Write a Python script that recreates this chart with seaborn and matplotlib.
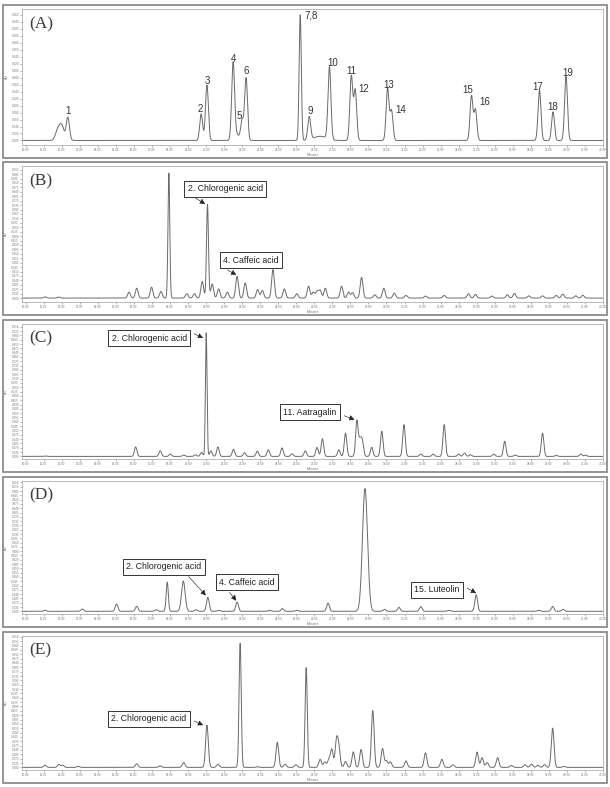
import numpy as np
import pandas as pd
import seaborn as sns
import matplotlib.pyplot as plt
from matplotlib.patches import Rectangle

# peak tables: retention time (min), height
a_rt = [11.79, 12.01, 12.34, 19.73, 20.05, 21.50, 21.68, 22.00, 22.22, 25.22, 25.72, 26.32,
        26.84, 28.05, 28.27, 30.06, 30.28, 34.71, 34.93, 38.48, 39.23, 39.95]
a_h = [0.031, 0.039, 0.066, 0.076, 0.159, 0.218, 0.017, 0.056, 0.179, 0.360, 0.066, 0.012,
       0.208, 0.184, 0.144, 0.149, 0.085, 0.127, 0.088, 0.144, 0.082, 0.184]
a_lab = ["", "", "1", "2", "3", "4", "", "5", "6", "7,8", "9", "",
         "10", "11", "12", "13", "14", "15", "16", "17", "18", "19"]

b_rt = [11.08, 11.84, 15.73, 16.16, 16.98, 17.50, 17.94, 18.93, 19.36, 19.79, 20.08, 20.34,
        20.70, 21.18, 21.72, 22.17, 22.86, 23.12, 23.71, 24.34, 25.03, 25.68, 25.94, 26.15,
        26.32, 26.61, 27.51, 27.90, 28.12, 28.62, 29.35, 29.85, 30.43, 31.08, 32.16, 33.20,
        34.54, 34.93, 35.84, 36.70, 37.09, 37.89, 38.65, 39.41, 39.77, 40.49, 40.88]
b_h = [0.010, 0.008, 0.047, 0.078, 0.086, 0.052, 0.987, 0.034, 0.034, 0.131, 0.739, 0.112,
       0.073, 0.047, 0.172, 0.120, 0.068, 0.060, 0.225, 0.073, 0.034, 0.094, 0.047, 0.052,
       0.060, 0.078, 0.094, 0.047, 0.042, 0.164, 0.026, 0.078, 0.039, 0.021, 0.016, 0.021,
       0.034, 0.029, 0.016, 0.026, 0.037, 0.018, 0.018, 0.021, 0.031, 0.018, 0.023]

c_rt = [11.08, 16.10, 17.46, 18.02, 18.76, 19.41, 19.75, 20.01, 20.27, 20.66, 21.52, 22.13,
        22.84, 23.45, 24.21, 24.77, 25.50, 26.15, 26.45, 27.36, 27.73, 28.36, 28.53, 28.66,
        29.18, 29.74, 30.97, 31.90, 32.59, 33.20, 34.00, 34.32, 34.65, 35.95, 36.55, 37.14,
        38.65, 39.41, 40.77, 41.03]
c_h = [0.003, 0.077, 0.045, 0.019, 0.011, 0.013, 0.032, 1.000, 0.045, 0.077, 0.058, 0.029,
       0.042, 0.053, 0.069, 0.021, 0.045, 0.072, 0.143, 0.053, 0.188, 0.289, 0.120, 0.120,
       0.074, 0.204, 0.257, 0.019, 0.019, 0.257, 0.019, 0.027, 0.013, 0.019, 0.122, 0.011,
       0.188, 0.008, 0.019, 0.011]

d_rt = [11.08, 13.14, 15.04, 16.16, 17.24, 17.85, 18.74, 19.45, 20.10, 20.70, 21.72, 23.51,
        24.23, 25.03, 26.76, 28.81, 29.89, 30.69, 31.90, 33.46, 34.97, 38.43, 39.21, 39.79]
d_h = [0.008, 0.019, 0.059, 0.040, 0.013, 0.237, 0.247, 0.013, 0.113, 0.008, 0.075, 0.008,
       0.022, 0.008, 0.067, 1.000, 0.016, 0.032, 0.038, 0.008, 0.134, 0.008, 0.040, 0.016]

e_rt = [11.08, 11.84, 12.05, 12.92, 16.16, 17.46, 18.76, 20.05, 20.66, 21.89, 22.86, 23.95,
        24.38, 24.98, 25.55, 26.32, 26.58, 26.80, 26.97, 27.23, 27.36, 27.73, 28.16, 28.59,
        29.24, 29.78, 30.00, 30.22, 31.08, 32.16, 33.07, 33.68, 35.02, 35.30, 35.58, 36.16,
        36.92, 37.68, 38.04, 38.39, 38.76, 39.21, 39.84]
e_h = [0.018, 0.023, 0.018, 0.008, 0.029, 0.013, 0.039, 0.339, 0.026, 1.000, 0.005, 0.201,
       0.026, 0.021, 0.802, 0.065, 0.044, 0.057, 0.144, 0.210, 0.150, 0.047, 0.125, 0.144,
       0.457, 0.151, 0.052, 0.044, 0.052, 0.117, 0.065, 0.021, 0.123, 0.078, 0.039, 0.078,
       0.016, 0.021, 0.026, 0.018, 0.023, 0.316, 0.008]

# peaks that are wider/narrower than the usual one (rt -> sigma, min)
a_wide = {11.79: 0.13, 12.01: 0.12, 12.34: 0.09, 21.68: 0.15, 25.22: 0.06, 26.32: 0.35}
b_wide = {17.94: 0.05, 20.08: 0.055}
c_wide = {20.01: 0.045}
d_wide = {18.74: 0.1, 28.81: 0.14, 17.85: 0.06}
e_wide = {21.89: 0.06, 25.55: 0.06}

labels = ["(A)", "(B)", "(C)", "(D)", "(E)"]

# text boxes: text, box centre (rt, h), arrow tail, arrow head
b_notes = [("2. Chlorogenic acid", (21.07, 0.864), (19.41, 0.791), (19.95, 0.744)),
           ("4. Caffeic acid", (22.50, 0.298), (21.20, 0.222), (21.68, 0.183))]
c_notes = [("2. Chlorogenic acid", (16.85, 0.958), (19.34, 0.992), (19.84, 0.960)),
           ("11. Aatragalin", (25.76, 0.358), (27.66, 0.329), (28.23, 0.297))]
d_notes = [("2. Chlorogenic acid", (17.65, 0.363), (19.04, 0.282), (19.99, 0.129)),
           ("4. Caffeic acid", (22.28, 0.237), (21.31, 0.153), (21.68, 0.086)),
           ("15. Luteolin", (32.79, 0.175), (34.48, 0.188), (34.97, 0.148))]
e_notes = [("2. Chlorogenic acid", (16.83, 0.392), (19.34, 0.373), (19.84, 0.339))]


def trace(rt, h, wide, sigma=0.075, base=0.0):
    t = np.linspace(9.8, 42.0, 4000)
    y = np.full_like(t, base)
    for r, hh in zip(rt, h):
        s = wide.get(r, sigma)
        y += hh * np.exp(-0.5 * ((t - r) / s) ** 2)
    return pd.DataFrame({"Minutes": t, "AU": y})


sns.set_theme(style="white")
plt.rcParams['font.family'] = ['Liberation Sans', 'DejaVu Sans']

W, H = 610, 787
fig = plt.figure(figsize=(W / 100, H / 100), dpi=100)

# frame top / bottom of each panel, pixels
frames = [(5, 158), (162, 315), (320, 472), (477, 627), (632, 783)]
data = [trace(a_rt, a_h, a_wide, 0.08), trace(b_rt, b_h, b_wide),
        trace(c_rt, c_h, c_wide, 0.07), trace(d_rt, d_h, d_wide),
        trace(e_rt, e_h, e_wide)]
ylims = [(-0.013, 0.377), (-0.031, 1.044), (-0.021, 1.072), (-0.022, 1.062), (-0.021, 1.057)]
ysteps = [0.02, 0.035, 0.035, 0.035, 0.035]
notes = [[], b_notes, c_notes, d_notes, e_notes]

# label offsets for the peak numbers in (A), points
lab_off = {"1": (0, 1), "2": (-1, 0), "3": (0, -1), "5": (-2, 0), "6": (0, 1.5),
           "7,8": (3, -4), "9": (1, 1), "10": (2, 0), "12": (2, -3), "13": (1, -1),
           "14": (3, -3), "15": (-3, 1), "16": (3, 2), "17": (-1, -1), "19": (1, -1)}
lab_left = {"7,8", "12", "14", "16"}

for i, (top, bot) in enumerate(frames):
    fig.patches.append(Rectangle((3 / W, 1 - bot / H), 604 / W, (bot - top) / H,
                                 transform=fig.transFigure, fill=False,
                                 ec="#8c8c8c", lw=1.3))
    ax = fig.add_axes([22 / W, 1 - (bot - 13) / H, 581 / W, (bot - 13 - top - 4) / H])
    sns.lineplot(data=data[i], x="Minutes", y="AU", ax=ax, color="#6a6a6a", lw=0.7)
    ax.set_xlim(9.8, 42.0)
    ax.set_ylim(*ylims[i])
    ax.set_xticks(np.arange(10, 43, 1))
    ax.set_xticklabels([f"{v:.2f}" for v in np.arange(10, 43, 1)])
    yt = np.arange(0, ylims[i][1], ysteps[i])
    ax.set_yticks(yt)
    ax.set_yticklabels([f"{v:.3f}" for v in yt])
    ax.tick_params(labelsize=2.2, colors="#777777", length=1.2, width=0.4, pad=1)
    ax.tick_params(axis="both", which="both", bottom=True, left=True)
    ax.set_xlabel("Minutes", fontsize=2.5, color="#777777", labelpad=0.5)
    ax.set_ylabel("AU", fontsize=2.5, color="#777777", labelpad=2)
    for sp in ax.spines.values():
        sp.set_color("#b0b0b0")
        sp.set_linewidth(0.6)
    ax.text(0.012, 0.89, labels[i], transform=ax.transAxes, fontsize=12.5,
            family="Liberation Serif", va="center", ha="left", color="#3a3a3a")

    if i == 0:
        for r, hh, lab in zip(a_rt, a_h, a_lab):
            if not lab:
                continue
            dx, dy = lab_off.get(lab, (0, 0))
            ax.annotate(lab, (r, hh), xytext=(dx, dy), textcoords="offset points",
                        ha="left" if lab in lab_left else "center", va="bottom",
                        fontsize=7, color="#333333")

    for txt, (bx, by), tail, head in notes[i]:
        ax.text(bx, by, txt, ha="center", va="center", fontsize=6.3, color="#222222",
                bbox=dict(boxstyle="square,pad=0.4", fc="white", ec="#333333", lw=0.7))
        ax.annotate("", xy=head, xytext=tail,
                    arrowprops=dict(arrowstyle="-|>,head_length=0.5,head_width=0.25",
                                    mutation_scale=6, shrinkA=0, shrinkB=0,
                                    color="#222222", lw=0.5, ls=(0, (2, 1))))

fig.savefig("out.png", dpi=100, facecolor="white")
